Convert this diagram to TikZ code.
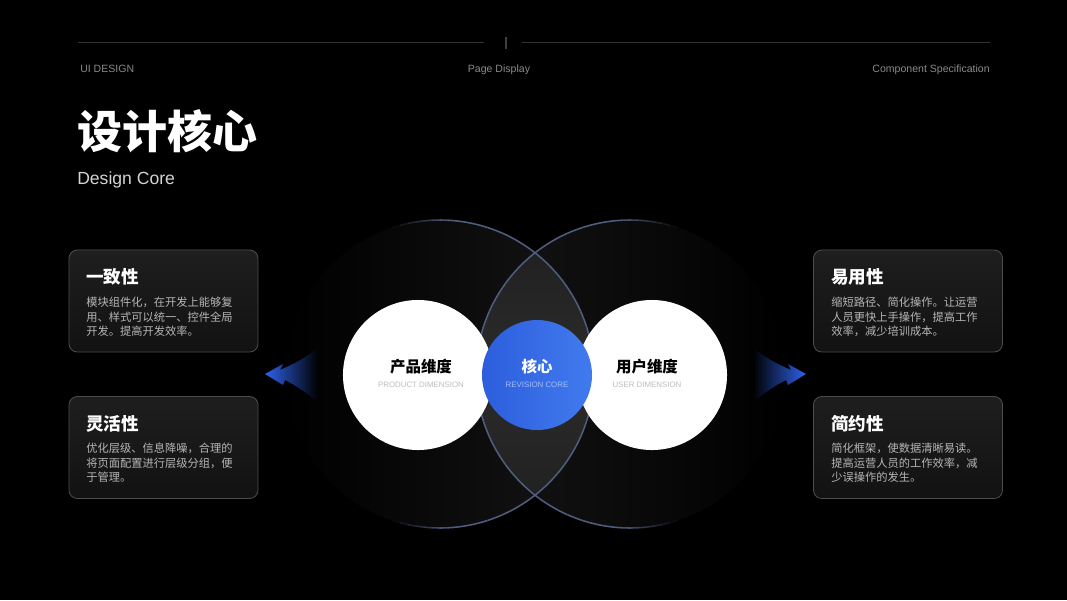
\documentclass[tikz,border=0pt]{standalone}
\usepackage{fontspec}
\setmainfont{Liberation Sans}
\newfontfamily\cjk{Noto Sans CJK SC}
\usetikzlibrary{positioning}
\definecolor{rulegray}{HTML}{333333}
\definecolor{capgray}{HTML}{8A8A8A}
\definecolor{subgray}{HTML}{D4D4D4}
\definecolor{bodygray}{HTML}{B6B6B6}
\definecolor{ringblue}{HTML}{4F5D7E}
\definecolor{coreblue}{HTML}{2D5EDD}
\definecolor{corelight}{HTML}{417AEE}
\definecolor{lensgray}{HTML}{242424}
\definecolor{cardtop}{HTML}{1E1E1E}
\definecolor{cardbot}{HTML}{121212}
\definecolor{cardline}{HTML}{4C4C4C}
\definecolor{tagblue}{HTML}{A6BFF7}
\definecolor{taggray}{HTML}{BDBDBD}
\definecolor{arrowblue}{HTML}{2D62EA}

\begin{document}
\begin{tikzpicture}[
    x=0.025cm, y=-0.025cm,
    every node/.style={inner sep=0pt},
  ]

  % Background
  \fill[black] (0,0) rectangle (1067,600);
  \useasboundingbox (0,0) rectangle (1067,600);

  \tikzset{
    hdr/.style={font=\fontsize{7.5}{9}\selectfont, text=capgray},
    card/.style={rounded corners=6pt, draw=cardline, line width=0.6pt,
                 top color=cardtop, bottom color=cardbot,
                 minimum width=4.725cm, minimum height=2.55cm},
    cardtitle/.style={font=\cjk\bfseries\fontsize{12.5}{14}\selectfont,
                      text=white, anchor=west},
    cardbody/.style={font=\cjk\fontsize{8}{10.2}\selectfont, text=bodygray,
                     anchor=north west, align=left},
    ring/.style={draw=ringblue, line width=1.1pt},
    disc/.style={circle, fill=white, minimum size=3.75cm},
    dimcn/.style={font=\cjk\bfseries\fontsize{11}{13}\selectfont},
    dimtag/.style={font=\fontsize{5.6}{7}\selectfont},
  }

  % --- Header ---
  \draw[rulegray, line width=0.5pt] (78,42) -- (484,42);
  \draw[rulegray, line width=0.5pt] (522,42) -- (990,42);
  \draw[white!25!black, line width=0.8pt] (506,37) -- (506,49);
  \node[hdr, anchor=base west] (hleft) at (80,72.5) {UI DESIGN};
  \node[hdr, anchor=base] (hmid) at (499,72) {Page Display};
  \node[hdr, anchor=base east] (hright) at (990,72) {Component Specification};

  % --- Title ---
  \node[font=\cjk\bfseries\fontsize{32}{36}\selectfont, text=white,
        anchor=west] (title) at (77,131) {设计核心};
  \node[font=\fontsize{12.5}{14}\selectfont, text=subgray,
        anchor=west] (subtitle) at (77,180) {Design Core};

  % --- Large dark circles ---
  \node[circle, minimum size=7.7cm, left color=black, middle color=black,
        right color=white!8!black] (bigL) at (440,374) {};
  \node[circle, minimum size=7.7cm, left color=white!8!black,
        middle color=black, right color=black] (bigR) at (630,374) {};
  \begin{scope}
    \clip (bigL.center) circle[radius=154];
    \shade[top color=white!12!black, bottom color=white!12!black,
           middle color=white!17!black] (bigR.center) circle[radius=154];
  \end{scope}

  % rings fade out towards the outer sides
  \foreach \a in {0,3,...,357}{
    \pgfmathsetmacro\op{max(0,min(1,2.5*(cos(\a+1.5)+0.32)))}
    \draw[ring, draw opacity=\op] ([shift={(\a:154)}]bigL.center)
      arc[start angle=\a, end angle=\a+3, radius=154];
    \draw[ring, draw opacity=\op] ([shift={(180+\a:154)}]bigR.center)
      arc[start angle=180+\a, end angle=183+\a, radius=154];
  }

  % --- Dimension circles ---
  \node[disc] (prod) at (418,375) {};
  \node[disc] (user) at (652,375) {};
  \node[circle, minimum size=2.75cm, left color=coreblue,
        right color=corelight] (core) at (537,375) {};

  \node[dimcn, text=black] (prodcn) at (421,367) {产品维度};
  \node[dimtag, text=taggray] (prodtag) at (421,385) {PRODUCT DIMENSION};
  \node[dimcn, text=white] (corecn) at (537,367) {核心};
  \node[dimtag, text=tagblue] (coretag) at (537,385) {REVISION CORE};
  \node[dimcn, text=black] (usercn) at (647,367) {用户维度};
  \node[dimtag, text=taggray] (usertag) at (647,385) {USER DIMENSION};

  % --- Side arrows ---
  \shade[left color=arrowblue, middle color=arrowblue!60!black,
         right color=black]
    (265,374) -- (283,364) -- (280,370)
    .. controls (296,363) and (309,356) .. (318,347)
    -- (318,402)
    .. controls (308,394) and (297,386) .. (285,380)
    -- (283,385) -- cycle;
  \shade[left color=black, middle color=arrowblue!60!black,
         right color=arrowblue]
    (806,374) -- (788,364) -- (791,370)
    .. controls (775,363) and (762,356) .. (753,347)
    -- (753,402)
    .. controls (763,394) and (774,386) .. (786,380)
    -- (788,385) -- cycle;

  % --- Cards (left) ---
  \node[card] (c1) at (163.5,301) {};
  \node[cardtitle] (c1t) at (86,277) {一致性};
  \node[cardbody] (c1b) at (86,297)
    {模块组件化，在开发上能够复\\用、样式可以统一、控件全局\\开发。提高开发效率。};

  \node[card] (c2) at (163.5,447.5) {};
  \node[cardtitle] (c2t) at (86,424) {灵活性};
  \node[cardbody] (c2b) at (86,443)
    {优化层级、信息降噪，合理的\\将页面配置进行层级分组，便\\于管理。};

  % --- Cards (right) ---
  \node[card] (c3) at (908,301) {};
  \node[cardtitle] (c3t) at (831,277) {易用性};
  \node[cardbody] (c3b) at (831,297)
    {缩短路径、简化操作。让运营\\人员更快上手操作，提高工作\\效率，减少培训成本。};

  \node[card] (c4) at (908,447.5) {};
  \node[cardtitle] (c4t) at (831,424) {简约性};
  \node[cardbody] (c4b) at (831,443)
    {简化框架，使数据清晰易读。\\提高运营人员的工作效率，减\\少误操作的发生。};

\end{tikzpicture}
\end{document}
